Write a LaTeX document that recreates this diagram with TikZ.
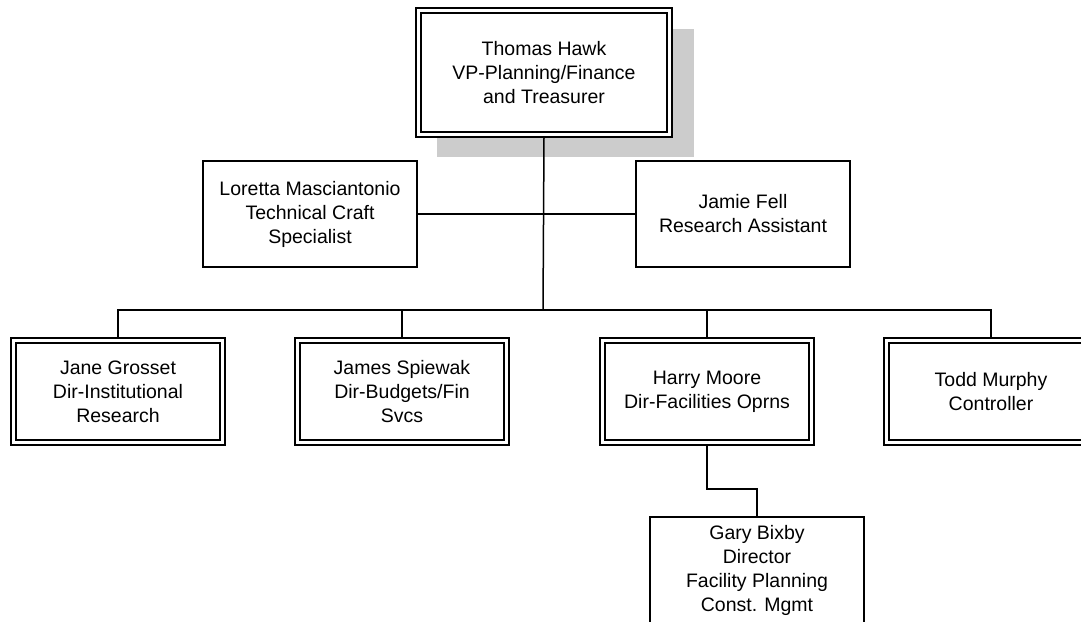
\documentclass[tikz,border=0pt]{standalone}
\usepackage{fontspec}
\setmainfont{Liberation Sans}
\begin{document}
\begin{tikzpicture}[x=1pt,y=-1pt,
  box/.style={draw, line width=1.2pt, fill=white, minimum width=214pt, minimum height=106pt,
    inner sep=0pt, outer sep=0pt, align=center, font=\fontsize{19.5}{24}\selectfont},
  innerline/.style={draw, line width=1.7pt},
  conn/.style={draw, line width=1.5pt},
  shadow/.style={fill=gray!40}]
\useasboundingbox (0,0) rectangle (1081,621);
% shadow of top box
\fill[shadow] (437,29) rectangle (694,157);
% nodes
\node[box, minimum width=256pt, minimum height=129pt] (top) at (544,72.5) {Thomas Hawk\\VP-Planning/Finance\\and Treasurer};
\node[box] (lor) at (310,214) {Loretta Masciantonio\\Technical Craft\\Specialist};
\node[box] (jam) at (743,214) {Jamie Fell\\Research Assistant};
\node[box, minimum height=107pt] (jane) at (118,391.5) {Jane Grosset\\Dir-Institutional\\Research};
\node[box, minimum height=107pt] (james) at (402,391.5) {James Spiewak\\Dir-Budgets/Fin\\Svcs};
\node[box, minimum height=107pt] (harry) at (707,391.5) {Harry Moore\\Dir-Facilities Oprns};
\node[box, minimum height=107pt] (todd) at (991,391.5) {Todd Murphy\\Controller};
\node[box] (gary) at (757,570) {Gary Bixby\\Director\\Facility Planning\\Const. Mgmt};
% inner lines of double-bordered boxes
\foreach \n in {top,jane,james,harry,todd}
  \draw[innerline] ([xshift=5pt,yshift=-5pt]\n.north west) rectangle ([xshift=-5pt,yshift=5pt]\n.south east);
% connectors
\coordinate (bus) at (543,310);
\draw[conn] (top.south) -- (bus);
\draw[conn] (lor.east) -- (lor.east -| top.south);
\draw[conn] (jam.west) -- (jam.west -| top.south);
\draw[conn] (jane.north) |- (bus) -| (todd.north);
\draw[conn] (james.north) -- (james.north |- bus);
\draw[conn] (harry.north) -- (harry.north |- bus);
\draw[conn] (harry.south) -- ++(0,44) -| (gary.north);
\end{tikzpicture}
\end{document}
